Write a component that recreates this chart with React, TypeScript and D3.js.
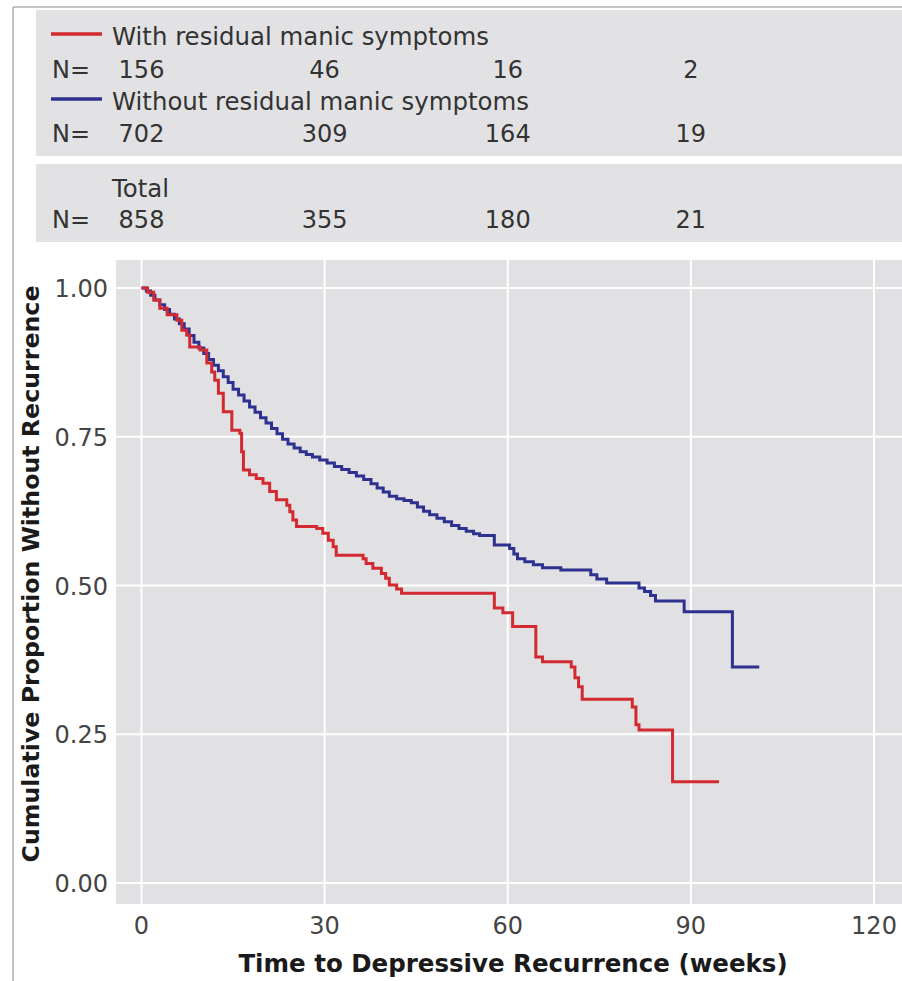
import React from "react";
import * as d3 from "d3";

// axis ticks
const weekTicks = [0, 30, 60, 90, 120];
const survTicks = [0, 0.25, 0.5, 0.75, 1];

// numbers at risk
const riskWeeks = [0, 30, 60, 90];
const nWith = [156, 46, 16, 2];
const nWithout = [702, 309, 164, 19];
const nTotal = [858, 355, 180, 21];

// with residual manic symptoms (red)
const redWeeks = [0, 1.0, 2.0, 3.0, 4.2, 5.8, 6.6, 7.4, 7.9, 9.6, 10.7, 11.5, 12.0, 12.6, 13.4, 14.8, 16.1, 16.4, 16.7, 17.7, 18.8, 19.9, 21.0, 22.1, 23.8, 24.3, 24.8, 25.4, 28.7, 29.7, 30.6, 31.4, 31.9, 36.3, 36.8, 37.9, 39.3, 40.0, 40.6, 41.8, 42.6, 57.8, 59.2, 60.8, 64.6, 65.7, 70.4, 71.0, 71.6, 72.2, 80.4, 81.0, 81.5, 87.0];
const redSurv = [1.0, 0.993, 0.98, 0.966, 0.955, 0.946, 0.929, 0.921, 0.901, 0.896, 0.874, 0.859, 0.845, 0.823, 0.792, 0.761, 0.756, 0.725, 0.694, 0.686, 0.68, 0.672, 0.658, 0.644, 0.635, 0.624, 0.61, 0.599, 0.596, 0.588, 0.576, 0.565, 0.551, 0.545, 0.537, 0.529, 0.52, 0.512, 0.501, 0.494, 0.487, 0.462, 0.454, 0.431, 0.38, 0.372, 0.363, 0.345, 0.33, 0.309, 0.296, 0.266, 0.257, 0.17];
const redEnd = 94.6;

// without residual manic symptoms (blue)
const blueWeeks = [0, 0.8, 1.5, 2.2, 3.0, 3.8, 4.6, 5.4, 6.2, 7.0, 7.8, 8.6, 9.4, 10.2, 11.0, 11.8, 12.6, 13.4, 14.2, 15.0, 15.9, 16.8, 17.7, 18.6, 19.5, 20.4, 21.3, 22.2, 23.1, 24.0, 25.0, 26.0, 27.0, 28.0, 29.2, 30.4, 31.6, 32.8, 34.0, 35.2, 36.4, 37.6, 38.6, 39.6, 40.6, 41.8, 43.0, 44.2, 45.2, 46.2, 47.2, 48.4, 49.6, 50.8, 52.0, 53.2, 54.4, 55.4, 57.8, 60.3, 61.0, 61.6, 62.8, 64.2, 65.7, 68.7, 73.6, 74.6, 76.2, 81.5, 82.4, 83.4, 84.2, 88.9, 96.8];
const blueSurv = [1.0, 0.995, 0.988, 0.98, 0.972, 0.964, 0.956, 0.948, 0.94, 0.931, 0.92, 0.909, 0.899, 0.89, 0.88, 0.87, 0.861, 0.851, 0.841, 0.83, 0.82, 0.81, 0.8, 0.791, 0.782, 0.773, 0.764, 0.755, 0.746, 0.738, 0.731, 0.725, 0.72, 0.716, 0.711, 0.706, 0.7, 0.695, 0.69, 0.684, 0.678, 0.671, 0.664, 0.657, 0.65, 0.646, 0.643, 0.639, 0.632, 0.625, 0.619, 0.613, 0.607, 0.601, 0.596, 0.591, 0.587, 0.584, 0.568, 0.562, 0.553, 0.545, 0.54, 0.535, 0.53, 0.526, 0.518, 0.511, 0.504, 0.496, 0.49, 0.483, 0.474, 0.456, 0.363];
const blueEnd = 101.2;

const FONT = "'DejaVu Sans', sans-serif";
const RED = "#d22a30";
const BLUE = "#2e3190";

export default function App() {
  const W = 902, H = 981;
  const panel = { left: 116, right: 902, top: 260, bottom: 904 };

  const x = d3.scaleLinear().domain([0, 120]).range([141.5, 874]);
  const y = d3.scaleLinear().domain([0, 1]).range([883, 288]);

  const line = d3.line<[number, number]>()
    .x(d => x(d[0]))
    .y(d => y(d[1]))
    .curve(d3.curveStepAfter);

  const pts = (weeks: number[], surv: number[], end: number): [number, number][] => {
    const p: [number, number][] = weeks.map((w, i) => [w, surv[i]]);
    p.push([end, surv[surv.length - 1]]);
    return p;
  };

  const legendRow = (label: string, color: string | null, yBase: number) => (
    <g>
      {color && <line x1={51} x2={102} y1={yBase - 11} y2={yBase - 11} stroke={color} strokeWidth={3.5} />}
      <text x={112} y={yBase} fontSize={24.4} fill="#333">{label}</text>
    </g>
  );

  const nRow = (vals: number[], yBase: number) => (
    <g>
      <text x={52} y={yBase} fontSize={24} fill="#333">N=</text>
      {vals.map((v, i) => (
        <text key={i} x={x(riskWeeks[i])} y={yBase} fontSize={24} fill="#333" textAnchor="middle">{v}</text>
      ))}
    </g>
  );

  return (
    <svg width={W} height={H} style={{ position: "absolute", left: 0, top: 0, display: "block" }} fontFamily={FONT}>
      <rect width={W} height={H} fill="#fff" />
      {/* frame */}
      <line x1={13} x2={W} y1={7} y2={7} stroke="#b0b0b0" strokeWidth={1.5} />
      <line x1={13} x2={13} y1={7} y2={H} stroke="#b0b0b0" strokeWidth={1.5} />

      {/* numbers at risk boxes */}
      <rect x={36} y={10} width={W - 36} height={146} fill="#e2e2e4" />
      <rect x={36} y={164} width={W - 36} height={78} fill="#e2e2e4" />
      {legendRow("With residual manic symptoms", RED, 45)}
      {nRow(nWith, 78)}
      {legendRow("Without residual manic symptoms", BLUE, 110)}
      {nRow(nWithout, 142)}
      {legendRow("Total", null, 197)}
      {nRow(nTotal, 228)}

      {/* plot panel */}
      <rect x={panel.left} y={panel.top} width={panel.right - panel.left} height={panel.bottom - panel.top} fill="#e1e1e3" />
      {weekTicks.map(t => (
        <line key={"gx" + t} x1={x(t)} x2={x(t)} y1={panel.top} y2={panel.bottom} stroke="#fff" strokeWidth={2} />
      ))}
      {survTicks.map(t => (
        <line key={"gy" + t} x1={panel.left} x2={panel.right} y1={y(t)} y2={y(t)} stroke="#fff" strokeWidth={2} />
      ))}

      <path d={line(pts(blueWeeks, blueSurv, blueEnd)) || ""} fill="none" stroke={BLUE} strokeWidth={3} />
      <path d={line(pts(redWeeks, redSurv, redEnd)) || ""} fill="none" stroke={RED} strokeWidth={3} />

      {/* axes labels */}
      {survTicks.map(t => (
        <text key={"ty" + t} x={108} y={y(t) + 9} fontSize={24} fill="#444" textAnchor="end">{d3.format(".2f")(t)}</text>
      ))}
      {weekTicks.map(t => (
        <text key={"tx" + t} x={x(t)} y={934} fontSize={24} fill="#444" textAnchor="middle">{t}</text>
      ))}

      <text x={513} y={972} fontSize={24.5} fontWeight="bold" fill="#1a1a1a" textAnchor="middle">Time to Depressive Recurrence (weeks)</text>
      <text transform="translate(39,574) rotate(-90)" fontSize={23.7} fontWeight="bold" fill="#1a1a1a" textAnchor="middle">Cumulative Proportion Without Recurrence</text>
    </svg>
  );
}
